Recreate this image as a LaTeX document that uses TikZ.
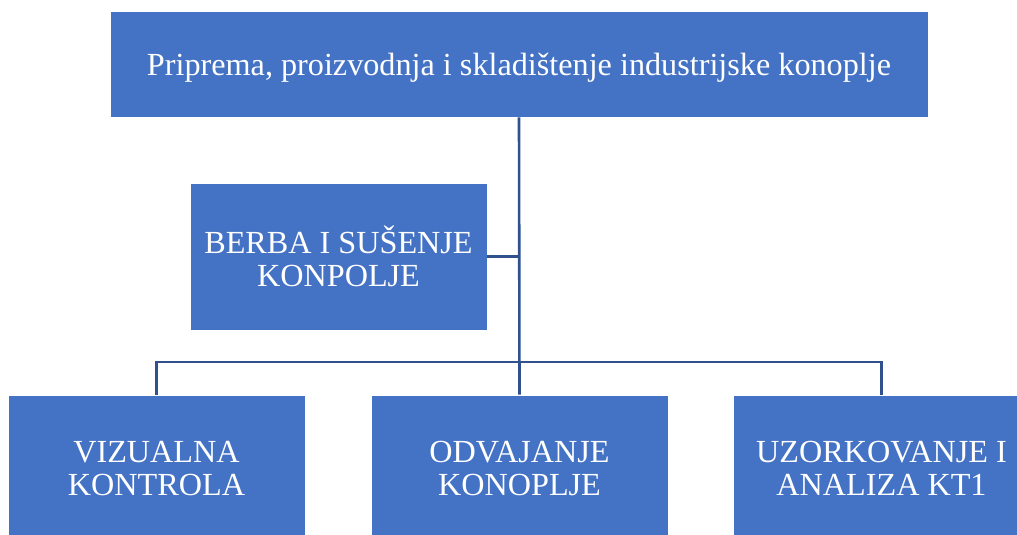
\documentclass[tikz,border=0pt]{standalone}
\usepackage{fontspec}
\setmainfont{Liberation Serif}
\usetikzlibrary{positioning}
\definecolor{boxblue}{HTML}{4472C4}
\definecolor{lineblue}{HTML}{2F528F}

\begin{document}
\begin{tikzpicture}[x=1pt, y=-1pt,
	kutija/.style={fill=boxblue, draw=white, line width=0.8pt, text=white, align=center,
		inner sep=0pt, font=\fontsize{32.2}{32.5}\selectfont},
	veza/.style={draw=lineblue, line width=2.6pt}]
	\def\sir{297};
	\def\vis{147};
	
	\useasboundingbox (0,0) rectangle (1017,535);
	
	\coordinate (racva) at (519,362);
	
	\begin{scope}
		\node [kutija, minimum width=818pt, minimum height=106pt, text depth=0pt] (vrh) at (519,64)
			{Priprema, proizvodnja i skladištenje industrijske konoplje};
		\node [kutija, minimum width=\sir pt, minimum height=\vis pt] (berba) at (338.5,256.5)
			{BERBA I SUŠENJE\\KONPOLJE};
		
		\node [kutija, minimum width=\sir pt, minimum height=\vis pt] (vizualna) at (156.5,468.5)
			{VIZUALNA\\KONTROLA};
		\node [kutija, minimum width=\sir pt, minimum height=\vis pt] (odvajanje) at (519.5,468.5)
			{ODVAJANJE\\KONOPLJE};
		\node [kutija, minimum width=\sir pt, minimum height=\vis pt] (uzorak) at (881.5,468.5)
			{UZORKOVANJE I\\ANALIZA KT1};
	\end{scope}
	
	\begin{scope}
		\draw [veza] (vrh.south) -- (odvajanje.north);
		\draw [veza] (berba.east) -- (berba.east -| vrh.south);
		\draw [veza] (vizualna.north) |- (racva) -| (uzorak.north);
	\end{scope}
\end{tikzpicture}
\end{document}
